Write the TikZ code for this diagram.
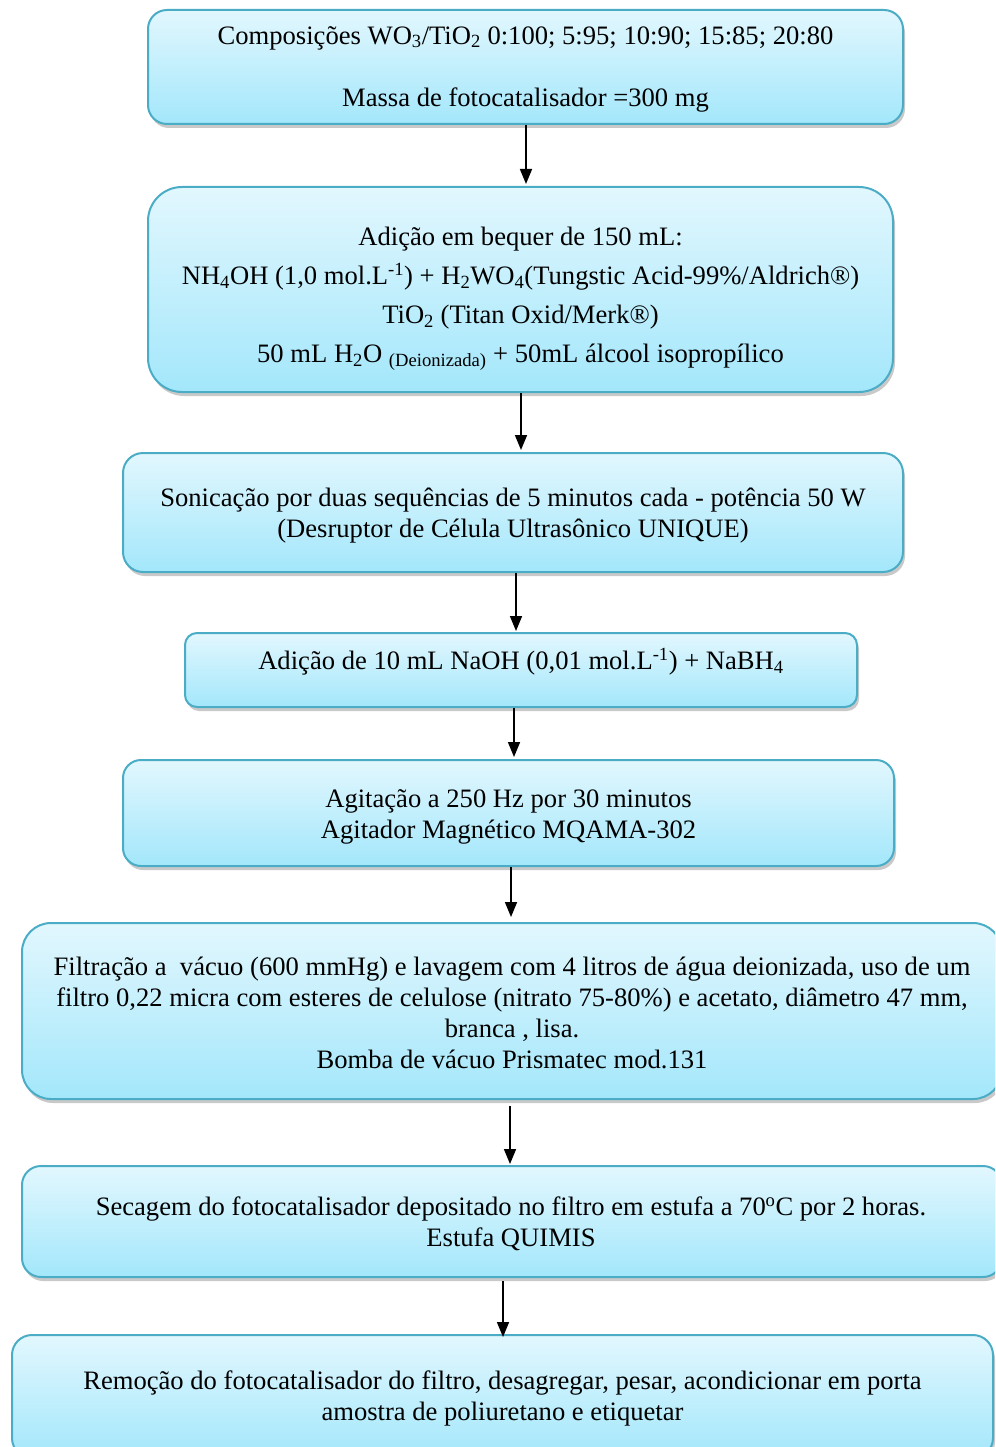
\documentclass[tikz,border=0pt]{standalone}
\usepackage{fontspec}
\setmainfont{Liberation Serif}
\usetikzlibrary{shadows,arrows.meta}
\definecolor{boxborder}{HTML}{4BACC6}
\definecolor{boxtop}{HTML}{E2F7FE}
\definecolor{boxbot}{HTML}{A3E7FB}
\tikzset{
 stepbox/.style={draw=boxborder, line width=2pt, top color=boxtop, bottom color=boxbot,
   drop shadow={shadow xshift=2pt, shadow yshift=-4pt, opacity=0.3, fill=black!70}, inner sep=0pt},
 txt/.style={align=center, font=\fontsize{26.6}{31}\selectfont, inner sep=0pt},
 arr/.style={-{Triangle[length=15pt,width=12pt]}, line width=1.6pt, black}
}
\begin{document}
\begin{tikzpicture}[x=1pt,y=-1pt]
\useasboundingbox (0,0) rectangle (995,1447);
\clip (0,0) rectangle (995,1447);
% boxes
\node[stepbox, minimum width=755, minimum height=114, rounded corners=19] (b1) at (525.5,67) {};
\node[stepbox, minimum width=745, minimum height=205, rounded corners=34] (b2) at (520.5,289.5) {};
\node[stepbox, minimum width=780, minimum height=119, rounded corners=20] (b3) at (513,512.5) {};
\node[stepbox, minimum width=672, minimum height=74, rounded corners=12] (b4) at (521,670) {};
\node[stepbox, minimum width=771, minimum height=106, rounded corners=18] (b5) at (508.5,813) {};
\node[stepbox, minimum width=980, minimum height=176, rounded corners=29] (b6) at (512,1011) {};
\node[stepbox, minimum width=980, minimum height=111, rounded corners=19] (b7) at (512,1221.5) {};
\node[stepbox, minimum width=981, minimum height=123, rounded corners=20] (b8) at (502.5,1396.5) {};
% texts
\node[txt] (t1) at (525.5,69) {Composições WO\textsubscript{3}/TiO\textsubscript{2} 0:100; 5:95; 10:90; 15:85; 20:80\\[31pt]Massa de fotocatalisador =300 mg};
\node[txt, font=\fontsize{26.6}{39}\selectfont] (t2) at (520.5,299) {Adição em bequer de 150 mL:\\
NH\textsubscript{4}OH (1,0 mol.L\textsuperscript{-1}) + H\textsubscript{2}WO\textsubscript{4}(Tungstic Acid-99\%/Aldrich®)\\
TiO\textsubscript{2} (Titan Oxid/Merk®)\\
50 mL H\textsubscript{2}O \textsubscript{(Deionizada)} + 50mL álcool isopropílico};
\node[txt] (t3) at (513,516) {Sonicação por duas sequências de 5 minutos cada - potência 50 W\\(Desruptor de Célula Ultrasônico UNIQUE)};
\node[txt] (t4) at (521,662) {Adição de 10 mL NaOH (0,01 mol.L\textsuperscript{-1}) + NaBH\textsubscript{4}};
\node[txt] (t5) at (508.5,816.5) {Agitação a 250 Hz por 30 minutos\\Agitador Magnético MQAMA-302};
\node[txt] (t6) at (512,1013) {Filtração a\ \ vácuo (600 mmHg) e lavagem com 4 litros de água deionizada, uso de um\\filtro 0,22 micra com esteres de celulose (nitrato 75-80\%) e acetato, diâmetro 47 mm,\\branca , lisa.\\Bomba de vácuo Prismatec mod.131};
\node[txt] (t7) at (511,1224) {Secagem do fotocatalisador depositado no filtro em estufa a 70\textsuperscript{o}C por 2 horas.\\Estufa QUIMIS};
\node[txt] (t8) at (502.5,1398) {Remoção do fotocatalisador do filtro, desagregar, pesar, acondicionar em porta\\amostra de poliuretano e etiquetar};
% arrows
\coordinate (x1) at (526,0);
\coordinate (x2) at (521,0);
\coordinate (x3) at (516,0);
\coordinate (x4) at (514,0);
\coordinate (x5) at (511,0);
\coordinate (x6) at (510,0);
\coordinate (x7) at (503,0);
\draw[arr, shorten >=2pt] (b1.south -| x1) -- (b2.north -| x1);
\draw[arr, shorten >=2pt] (b2.south -| x2) -- (b3.north -| x2);
\draw[arr, shorten >=1pt] (b3.south -| x3) -- (b4.north -| x3);
\draw[arr, shorten >=2pt] (b4.south -| x4) -- (b5.north -| x4);
\draw[arr, shorten >=5pt] (b5.south -| x5) -- (b6.north -| x5);
\draw[arr, shorten <=6pt, shorten >=1pt] (b6.south -| x6) -- (b7.north -| x6);
\draw[arr, shorten <=3pt, shorten >=-3pt] (b7.south -| x7) -- (b8.north -| x7);
\end{tikzpicture}
\end{document}
